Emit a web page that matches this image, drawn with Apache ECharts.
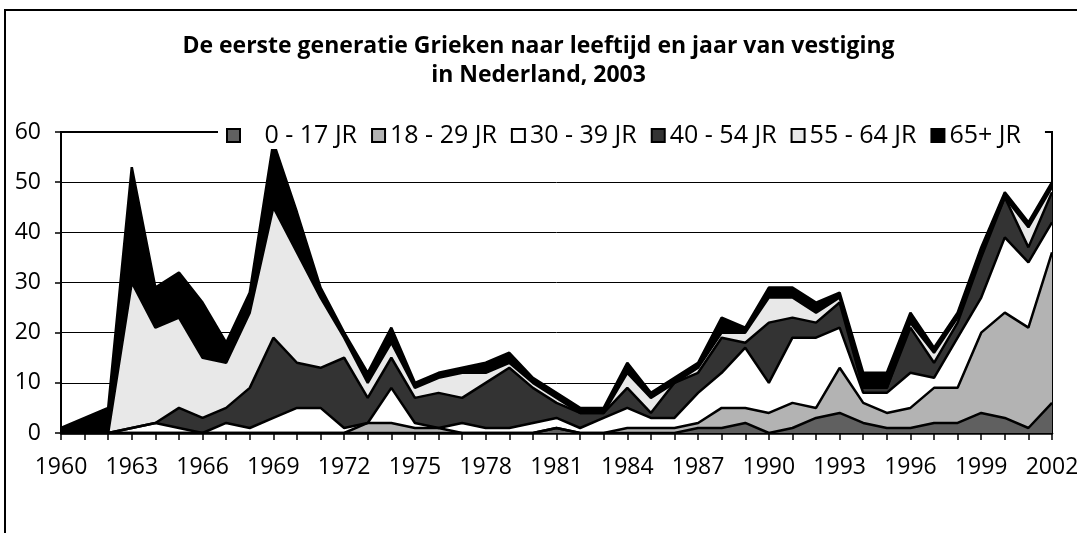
<!DOCTYPE html>
<html>
<head>
<meta charset="utf-8">
<script src="https://cdn.jsdelivr.net/npm/echarts@6/dist/echarts.min.js"></script>
<style>
  html, body { margin: 0; padding: 0; background: #fff; }
  #chart { width: 1077px; height: 533px; }
</style>
</head>
<body>
<div id="chart"></div>
<script>
// jaren van vestiging
const years = [];
for (let y = 1960; y <= 2002; y++) years.push(String(y));

const seriesNames = ["0 - 17 JR", "18 - 29 JR", "30 - 39 JR", "40 - 54 JR", "55 - 64 JR", "65+ JR"];
const seriesColors = ["#606060", "#b3b3b3", "#ffffff", "#333333", "#e8e8e8", "#000000"];

// aantallen per leeftijdsgroep, 1960 t/m 2002
const age0_17 = [0,0,0,0,0,0,0,0,0,0, 0,0,0,0,0,0,0,0,0,0, 0,1,0,0,0,0,0,1,1,2, 0,1,3,4,2,1,1,2,2,4, 3,1,6];
const age18_29 = [0,0,0,0,0,0,0,0,0,0, 0,0,0,2,2,1,1,0,0,0, 0,0,0,0,1,1,1,1,4,3, 4,5,2,9,4,3,4,7,7,16, 21,20,30];
const age30_39 = [0,0,0,1,2,1,0,2,1,3, 5,5,1,0,7,1,0,2,1,1, 2,2,1,3,4,2,2,6,7,12, 6,13,14,8,2,4,7,2,10,7, 15,13,6];
const age40_54 = [0,0,0,0,0,4,3,3,8,16, 9,8,14,5,6,5,7,5,9,12, 7,3,3,1,4,1,7,4,7,1, 12,4,3,5,1,1,9,3,3,8, 8,3,6];
const age55_64 = [0,0,0,29,19,18,12,9,15,26, 22,14,4,3,3,2,3,5,2,1, 1,1,0,0,3,3,0,1,1,2, 5,4,2,1,0,0,1,2,1,1, 0,4,1];
const age65plus = [1,3,5,23,8,9,11,4,4,13, 8,2,1,2,3,1,1,1,2,2, 1,1,1,1,2,1,1,1,3,1, 2,2,2,1,3,3,2,1,1,1, 1,1,1];

const yTicks = { min: 0, max: 60, step: 10 };

const font = "'Open Sans', 'Noto Sans', sans-serif";
const allData = [age0_17, age18_29, age30_39, age40_54, age55_64, age65plus];

const chart = echarts.init(document.getElementById("chart"), null, { renderer: "canvas" });

const series = seriesNames.map(function (name, i) {
  return {
    name: name,
    type: "line",
    stack: "totaal",
    symbol: "none",
    showSymbol: false,
    itemStyle: { color: seriesColors[i], borderColor: "#000", borderWidth: 2 },
    lineStyle: { color: "#000", width: 2.5 },
    areaStyle: { color: seriesColors[i], opacity: 1 },
    emphasis: { disabled: true },
    data: allData[i]
  };
});

const option = {
  animation: false,
  backgroundColor: "#fff",
  textStyle: { fontFamily: font },
  title: {
    text: "De eerste generatie Grieken naar leeftijd en jaar van vestiging\nin Nederland, 2003",
    left: "center",
    top: 32,
    padding: 0,
    textStyle: {
      fontFamily: font,
      fontWeight: "bold",
      fontSize: 23,
      lineHeight: 29,
      color: "#000"
    }
  },
  legend: {
    left: 218,
    top: 122,
    padding: [1, 24, 1, 8],
    backgroundColor: "#fff",
    itemWidth: 13,
    itemHeight: 13,
    itemGap: 14,
    icon: "rect",
    itemStyle: { borderColor: "#000", borderWidth: 2 },
    formatter: function (name) {
      return name === seriesNames[0] ? "   " + name : name;
    },
    textStyle: { fontFamily: font, fontSize: 25, color: "#000" },
    data: seriesNames
  },
  grid: {
    left: 61,
    right: 25,
    top: 132,
    bottom: 100,
    outerBoundsMode: "none",
    show: true,
    borderColor: "#000",
    borderWidth: 2,
    backgroundColor: "transparent"
  },
  xAxis: {
    type: "category",
    boundaryGap: false,
    data: years,
    axisLine: { lineStyle: { color: "#000", width: 2.5 } },
    axisTick: { show: true, interval: 0, length: 7, lineStyle: { color: "#000", width: 1.5 } },
    axisLabel: { interval: 2, margin: 23, fontSize: 23, color: "#000", fontFamily: font },
    splitLine: { show: false }
  },
  yAxis: {
    type: "value",
    min: yTicks.min,
    max: yTicks.max,
    interval: yTicks.step,
    axisLine: { show: true, lineStyle: { color: "#000", width: 2 } },
    axisTick: { show: true, length: 6, lineStyle: { color: "#000", width: 1.5 } },
    axisLabel: { margin: 20, fontSize: 23, color: "#000", fontFamily: font },
    splitLine: { show: true, lineStyle: { color: "#000", width: 1 } }
  },
  graphic: [
    {
      // kader rond de figuur
      type: "polyline",
      z: 100,
      shape: { points: [[5, 533], [5, 10], [1077, 10]] },
      style: { stroke: "#000", lineWidth: 2, fill: null }
    }
  ],
  series: series
};

chart.setOption(option);
</script>
</body>
</html>
